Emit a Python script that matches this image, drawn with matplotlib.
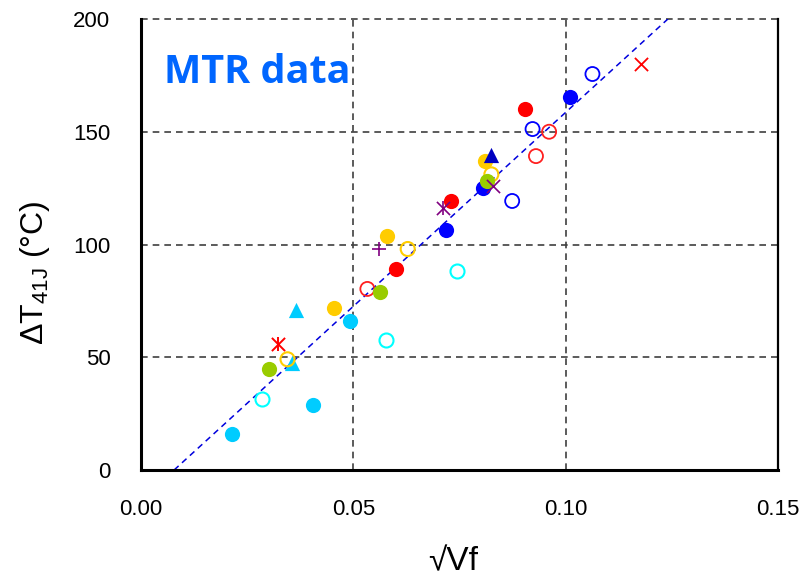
import numpy as np
import matplotlib
matplotlib.use('agg')
import matplotlib.pyplot as plt

# sqrt(Vf) vs dT41J, grouped by marker style / colour
cyan_fill_x = [0.0214, 0.0406, 0.0492]
cyan_fill_y = [15.8, 28.8, 66.1]
cyan_tri_x = [0.0365, 0.0355]
cyan_tri_y = [71.0, 47.6]
cyan_open_x = [0.0286, 0.0578, 0.0744]
cyan_open_y = [31.6, 57.8, 88.1]
green_fill_x = [0.0301, 0.0562, 0.0814]
green_fill_y = [44.8, 78.9, 128.2]
yellow_fill_x = [0.0455, 0.0580, 0.0810]
yellow_fill_y = [72.0, 103.9, 137.0]
yellow_open_x = [0.0345, 0.0628, 0.0825]
yellow_open_y = [49.1, 98.0, 131.1]
red_fill_x = [0.0600, 0.0730, 0.0905]
red_fill_y = [89.1, 119.3, 160.1]
red_open_x = [0.0533, 0.0930, 0.0961]
red_open_y = [80.3, 139.2, 150.0]
red_star_x = [0.0323]
red_star_y = [55.9]
red_cross_x = [0.1178]
red_cross_y = [180.2]
blue_fill_x = [0.0719, 0.0805, 0.1011]
blue_fill_y = [106.3, 125.1, 165.4]
blue_open_x = [0.0874, 0.0922, 0.1063]
blue_open_y = [119.3, 151.2, 175.6]
navy_tri_x = [0.0823]
navy_tri_y = [139.7]
purple_plus_x = [0.0561]
purple_plus_y = [98.0]
purple_star_x = [0.0711]
purple_star_y = [116.0]
purple_cross_x = [0.0828]
purple_cross_y = [125.9]

# linear fit dT = a*sqrt(Vf) + b
fit_a = 1720.0
fit_b = -13.4

xticks = [0.00, 0.05, 0.10, 0.15]
yticks = [0, 50, 100, 150, 200]

plt.rcParams['font.family'] = ['Liberation Sans', 'DejaVu Sans']

fig = plt.figure(figsize=(8.03, 5.77), dpi=100)
ax = fig.add_axes([0.1756, 0.1854, 0.9689 - 0.1756, 0.9671 - 0.1854])

ax.set_xlim(0, 0.15)
ax.set_ylim(0, 200)
ax.set_xticks(xticks)
ax.set_yticks(yticks)
ax.set_xticklabels(['%.2f' % t for t in xticks])
ax.tick_params(length=0, labelsize=16)
ax.tick_params(axis='x', pad=21)
ax.tick_params(axis='y', pad=22)

for v in xticks[1:3]:
    ax.axvline(v, color='#404040', lw=1.2, ls=(0, (4, 3)), zorder=1)
for v in yticks[1:]:
    ax.axhline(v, color='#404040', lw=1.2, ls=(0, (4, 3)), zorder=1, clip_on=False)

ax.spines['top'].set_visible(False)
ax.spines['left'].set_linewidth(2.2)
ax.spines['bottom'].set_linewidth(2.2)
ax.spines['right'].set_linewidth(1.6)
for s in ax.spines.values():
    s.set_color('black')

# trend line between y=0 and y=200
lx = np.array([(0 - fit_b) / fit_a, (200 - fit_b) / fit_a])
ax.plot(lx, fit_a * lx + fit_b, color='#0000DD', lw=1.1, ls=(0, (4, 3)), zorder=2)

ms = 120
ax.scatter(cyan_fill_x, cyan_fill_y, s=ms, color='#00CCFF', lw=0, zorder=3)
ax.scatter(cyan_tri_x, cyan_tri_y, s=ms, marker='^', color='#00CCFF', lw=0, zorder=3)
ax.scatter(cyan_open_x, cyan_open_y, s=ms * 0.85, facecolors='white', edgecolors='#00FFFF', lw=1.5, zorder=3)
ax.scatter(red_open_x, red_open_y, s=ms * 0.85, facecolors='none', edgecolors='#FF2020', lw=1.3, zorder=3)
ax.scatter(red_fill_x, red_fill_y, s=ms, color='#FF0000', lw=0, zorder=3)
ax.scatter(red_star_x, red_star_y, s=90, marker='x', color='#FF0000', lw=1.4, zorder=3)
ax.scatter(red_star_x, red_star_y, s=110, marker='|', color='#FF0000', lw=1.4, zorder=3)
ax.scatter(red_cross_x, red_cross_y, s=90, marker='x', color='#FF0000', lw=1.3, zorder=3)
ax.scatter(blue_open_x, blue_open_y, s=ms * 0.85, facecolors='none', edgecolors='#0000FF', lw=1.3, zorder=3)
ax.scatter(blue_fill_x, blue_fill_y, s=ms, color='#0000FF', lw=0, zorder=3)
ax.scatter(yellow_open_x, yellow_open_y, s=ms * 0.85, facecolors='none', edgecolors='#FFCC00', lw=1.5, zorder=4)
ax.scatter(yellow_fill_x, yellow_fill_y, s=ms, color='#FFCC00', lw=0, zorder=4)
ax.scatter(green_fill_x, green_fill_y, s=ms, color='#99CC00', lw=0, zorder=5)
ax.scatter(navy_tri_x, navy_tri_y, s=ms, marker='^', color='#0000C0', lw=0, zorder=5)
ax.scatter(purple_plus_x, purple_plus_y, s=100, marker='+', color='#800080', lw=1.2, zorder=5)
ax.scatter(purple_star_x, purple_star_y, s=90, marker='x', color='#800080', lw=1.2, zorder=5)
ax.scatter(purple_star_x, purple_star_y, s=110, marker='|', color='#800080', lw=1.2, zorder=5)
ax.scatter(purple_cross_x, purple_cross_y, s=90, marker='x', color='#800080', lw=1.2, zorder=6)

ax.text(0.0055, 171.6, 'MTR data', color='#0066FF', fontsize=28.5, fontweight='bold',
        family=['Open Sans', 'DejaVu Sans'], va='baseline', ha='left')

fig.text(0.564, 0.026, '\u221aVf', fontsize=24, ha='center', va='center')
fig.text(0.044, 0.528, '\u0394T$_{\\mathregular{41J}}$ (\u00b0C)', fontsize=23,
         rotation=90, ha='center', va='center')

fig.savefig('out.png', dpi=100)
